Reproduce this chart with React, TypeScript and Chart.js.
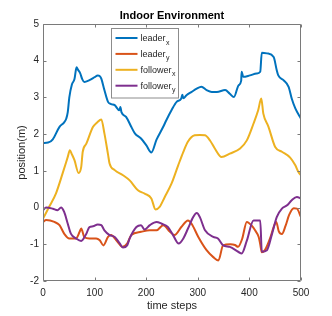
import React, { useEffect, useRef } from "react";
import { Chart, registerables } from "chart.js";

Chart.register(...registerables);

// ---- data ----
const titleText = "Indoor Environment";
const xLabel = "time steps";
const yLabel = "position(m)";

const seriesNames = ["leader", "leader", "follower", "follower"];
const seriesSubs = ["x", "y", "x", "y"];

const leaderXSteps = [0,10,19,32,41,45,48,51,56,61,65,68,72,76,80,90,100,106,110,113,119,126,132,139,148,150,152,161,171,178,190,200,210,220,233,239,249,259,268,270,272,278,288,298,307,317,327,337,353,362,370,379,384,385,388,401,414,421,424,434,447,453,456,466,476,482,489,500];
const leaderXValues = [1.76,1.77,1.86,2.2,2.32,2.42,2.6,3.0,3.35,3.5,3.82,3.75,3.66,3.5,3.42,3.47,3.55,3.6,3.58,3.51,3.2,2.88,2.82,2.79,2.65,2.74,2.6,2.47,2.2,2.02,1.88,1.7,1.5,1.85,2.2,2.38,2.65,2.88,2.97,3.07,2.98,3.06,3.15,3.24,3.29,3.2,3.15,3.15,3.2,3.1,3.01,3.33,3.45,3.7,3.56,3.6,3.65,3.7,4.22,4.2,4.1,3.74,3.6,3.47,3.29,2.97,2.7,2.42];

const leaderYSteps = [0,6,22,32,41,51,64,71,74,80,90,103,110,117,126,132,142,154,163,171,190,207,220,233,246,255,268,281,288,301,317,330,340,349,363,372,378,386,395,405,411,418,421,424,430,440,447,452,457,463,470,477,486,492,500];
const leaderYValues = [-0.39,-0.34,-0.39,-0.48,-0.71,-0.84,-0.84,-0.66,-0.57,-0.8,-0.84,-0.84,-0.89,-1.03,-0.8,-0.75,-0.89,-1.07,-0.98,-0.75,-0.66,-0.62,-0.62,-0.48,-0.66,-0.75,-0.53,-0.35,-0.44,-0.8,-1.16,-1.35,-1.44,-1.03,-1.0,-1.02,-1.07,-0.85,-0.39,-0.5,-0.62,-0.8,-1.0,-1.22,-1.16,-0.84,-0.53,-0.39,-0.65,-0.72,-0.5,-0.2,-0.02,-0.03,-0.26];

const followerXSteps = [0,12,25,38,48,52,56,61,69,74,77,84,97,105,113,119,126,129,139,155,168,184,197,210,218,226,236,249,262,272,281,294,304,314,324,333,346,362,382,395,408,417,423,427,437,450,463,479,489,495,500];
const followerXValues = [-0.3,0.02,0.38,0.93,1.38,1.56,1.45,1.29,0.94,1.1,1.52,1.74,2.2,2.32,2.4,2.02,1.45,1.2,1.02,0.88,0.74,0.47,0.38,0.25,-0.05,0.02,0.29,0.65,1.15,1.52,1.8,1.97,1.98,1.97,1.82,1.61,1.38,1.47,1.61,1.83,2.29,2.65,2.97,2.56,2.2,1.65,1.52,1.36,1.15,0.97,0.88];

const followerYSteps = [0,6,19,28,35,41,48,54,64,74,84,90,97,106,113,119,129,139,148,155,163,168,181,190,197,207,220,230,242,252,263,272,281,291,298,304,314,330,339,349,362,379,385,395,408,421,424,434,444,453,463,473,482,492,500];
const followerYValues = [-0.07,0.0,-0.03,-0.07,0.0,-0.12,-0.44,-0.71,-0.84,-0.91,-0.71,-0.53,-0.51,-0.46,-0.48,-0.62,-0.75,-0.8,-0.96,-1.09,-1.03,-0.84,-0.53,-0.48,-0.6,-0.48,-0.39,-0.44,-0.53,-0.75,-0.98,-0.84,-0.57,-0.26,-0.15,-0.26,-0.62,-0.8,-0.84,-1.03,-1.07,-1.21,-1.25,-0.9,-0.35,-0.35,-1.2,-1.16,-0.71,-0.26,-0.03,0.06,0.2,0.29,0.25];

const xMin = 0, xMax = 500, xStep = 100;
const yMin = -2, yMax = 5, yStep = 1;

// ---- styles ----
const COLORS = ["#0072BD", "#D95319", "#EDB120", "#7E2F8E"];
const FONT = "'Liberation Sans', Arial, Helvetica, sans-serif";
const AXIS_TEXT = "#262626";

const stepsList = [leaderXSteps, leaderYSteps, followerXSteps, followerYSteps];
const valuesList = [leaderXValues, leaderYValues, followerXValues, followerYValues];

const framePlugin = {
  id: "matlabFrame",
  afterDraw(chart: any) {
    const { ctx, chartArea } = chart;
    const { left, right, top, bottom } = chartArea;
    const xs = chart.scales.x;
    const ys = chart.scales.y;
    ctx.save();
    ctx.strokeStyle = "#7a7a7a";
    ctx.lineWidth = 1;
    const L = Math.round(left) + 0.5, R = Math.round(right) - 0.5;
    const T = Math.round(top) + 0.5, B = Math.round(bottom) - 0.5;
    ctx.beginPath();
    ctx.rect(L, T, R - L, B - T);
    ctx.stroke();
    const tl = 3;
    ctx.beginPath();
    xs.ticks.forEach((t: any) => {
      const px = Math.round(xs.getPixelForValue(t.value)) + 0.5;
      ctx.moveTo(px, B); ctx.lineTo(px, B - tl);
      ctx.moveTo(px, T); ctx.lineTo(px, T + tl);
    });
    ys.ticks.forEach((t: any) => {
      const py = Math.round(ys.getPixelForValue(t.value)) + 0.5;
      ctx.moveTo(L, py); ctx.lineTo(L + tl, py);
      ctx.moveTo(R, py); ctx.lineTo(R - tl, py);
    });
    ctx.stroke();

    // title centred over the axes
    ctx.fillStyle = "#000";
    ctx.font = `bold 11px ${FONT}`;
    ctx.textAlign = "center";
    ctx.textBaseline = "middle";
    ctx.fillText(titleText, (left + right) / 2, 15.5);

    // legend with subscripts
    const bx = Math.round(left) + 68.5, by = Math.round(top) + 4.5;
    const bw = 67, bh = 69.5;
    ctx.fillStyle = "#fff";
    ctx.fillRect(bx, by, bw, bh);
    ctx.strokeStyle = "#8c8c8c";
    ctx.strokeRect(bx, by, bw, bh);
    chart.data.datasets.forEach((ds: any, i: number) => {
      const ly = by + 9.5 + i * 15.9;
      ctx.strokeStyle = ds.borderColor;
      ctx.lineWidth = 2;
      ctx.beginPath();
      ctx.moveTo(bx + 4, ly);
      ctx.lineTo(bx + 26, ly);
      ctx.stroke();
      ctx.fillStyle = AXIS_TEXT;
      ctx.textAlign = "left";
      ctx.textBaseline = "alphabetic";
      ctx.font = `9px ${FONT}`;
      const tx = bx + 29;
      ctx.fillText(seriesNames[i], tx, ly + 3);
      const w = ctx.measureText(seriesNames[i]).width;
      ctx.font = `7px ${FONT}`;
      ctx.fillText(seriesSubs[i], tx + w + 0.5, ly + 6.5);
    });
    ctx.restore();
  },
};

export default function App() {
  const ref = useRef<HTMLCanvasElement | null>(null);
  useEffect(() => {
    if (!ref.current) return;
    const datasets = stepsList.map((steps, i) => ({
      label: seriesNames[i] + "_" + seriesSubs[i],
      data: steps.map((s, j) => ({ x: s, y: valuesList[i][j] })),
      borderColor: COLORS[i],
      backgroundColor: COLORS[i],
      borderWidth: 2,
      pointRadius: 0,
      fill: false,
      cubicInterpolationMode: "monotone" as const,
      order: 3 - i,
    }));
    const chart = new Chart(ref.current, {
      type: "line",
      data: { datasets },
      options: {
        animation: false,
        responsive: false,
        devicePixelRatio: 1,
        layout: { padding: { top: 24, right: 31, left: 0, bottom: 0 } },
        plugins: {
          legend: { display: false },
          title: { display: false },
          tooltip: { enabled: false },
        },
        scales: {
          x: {
            type: "linear",
            min: xMin,
            max: xMax,
            ticks: { stepSize: xStep, color: AXIS_TEXT, font: { family: FONT, size: 10 }, padding: 6, maxRotation: 0 },
            grid: { display: false, drawTicks: false },
            border: { display: false },
            title: { display: true, text: xLabel, color: AXIS_TEXT, font: { family: FONT, size: 11 }, padding: { top: 0, bottom: 3 } },
            afterFit: (s: any) => { s.height = 35; },
          },
          y: {
            type: "linear",
            min: yMin,
            max: yMax,
            ticks: { stepSize: yStep, color: AXIS_TEXT, font: { family: FONT, size: 10 }, padding: 4 },
            grid: { display: false, drawTicks: false },
            border: { display: false },
            title: { display: true, text: yLabel, color: AXIS_TEXT, font: { family: FONT, size: 11 }, padding: { top: 15, bottom: 0 } },
            afterFit: (s: any) => { s.width = 43; },
          },
        },
      },
      plugins: [framePlugin],
    });
    return () => chart.destroy();
  }, []);
  return (
    <div style={{ position: "fixed", left: 0, top: 0, width: 332, height: 316, background: "#fff" }}>
      <canvas ref={ref} width={332} height={316} style={{ display: "block" }} />
    </div>
  );
}
